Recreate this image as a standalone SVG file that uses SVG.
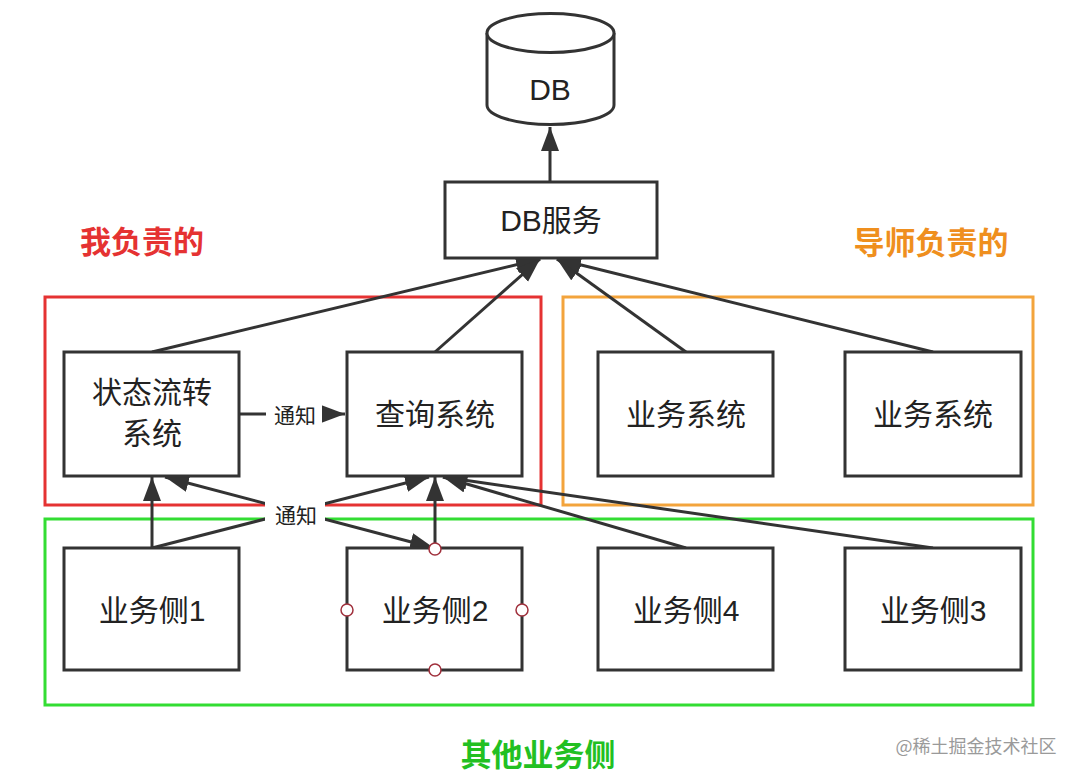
<svg xmlns="http://www.w3.org/2000/svg" width="1080" height="778" viewBox="0 0 1080 778">
<defs>
<style>
.node{fill:#fff;stroke:#333;stroke-width:3}
.t{font-family:"Liberation Sans","Noto Sans CJK SC",sans-serif;font-size:30px;fill:#222;text-anchor:middle;dominant-baseline:central}
.s{font-family:"Liberation Sans","Noto Sans CJK SC",sans-serif;font-size:21px;fill:#222;text-anchor:middle;dominant-baseline:central}
.title{font-family:"Noto Sans CJK SC",sans-serif;font-size:31px;font-weight:bold;text-anchor:middle;dominant-baseline:central}
.e{fill:none;stroke:#333;stroke-width:3}
.pt{fill:#fff;stroke:#a0303c;stroke-width:1.5}
</style>
<marker id="ah" markerUnits="userSpaceOnUse" markerWidth="26" markerHeight="20" refX="24" refY="9" orient="auto-start-reverse" viewBox="0 0 26 20">
<path d="M0,0 L24,9 L0,18 z" fill="#333"/>
</marker>
</defs>
<rect width="1080" height="778" fill="#fff"/>

<g id="group-red">
<rect x="45" y="297" width="496" height="208" fill="none" stroke="#e53232" stroke-width="3"/>
<text class="title" x="142" y="239" fill="#e53232">我负责的</text>
</g>
<g id="group-orange">
<rect x="563" y="297" width="470" height="208" fill="none" stroke="#f3a43c" stroke-width="3"/>
<text class="title" x="931" y="240" fill="#ef8f1e">导师负责的</text>
</g>
<g id="group-green">
<rect x="45" y="519" width="988" height="186" fill="none" stroke="#33dd33" stroke-width="3"/>
<text class="title" x="538" y="752" fill="#22c022">其他业务侧</text>
</g>

<g id="connectors">
<line class="e" x1="550" y1="182" x2="550" y2="127" marker-end="url(#ah)"/>
<line class="e" x1="152" y1="352" x2="540" y2="259" marker-end="url(#ah)"/>
<line class="e" x1="435" y1="352" x2="540" y2="259" marker-end="url(#ah)"/>
<line class="e" x1="686" y1="352" x2="557" y2="259" marker-end="url(#ah)"/>
<line class="e" x1="933" y1="352" x2="557" y2="259" marker-end="url(#ah)"/>
<line class="e" x1="152" y1="548" x2="152" y2="477" marker-end="url(#ah)"/>
<line class="e" x1="152" y1="548" x2="429" y2="477" marker-end="url(#ah)"/>
<line class="e" x1="435" y1="548" x2="435" y2="477" marker-end="url(#ah)"/>
<line class="e" x1="686" y1="548" x2="443" y2="477" marker-end="url(#ah)"/>
<line class="e" x1="933" y1="548" x2="443" y2="477" marker-end="url(#ah)"/>
<line class="e" x1="165" y1="477" x2="434" y2="548" marker-start="url(#ah)" marker-end="url(#ah)"/>
<line class="e" x1="239" y1="414" x2="345" y2="414" marker-end="url(#ah)"/>
<rect x="266" y="400" width="56" height="28" fill="#fff"/>
<text class="s" x="295" y="415">通知</text>
<rect x="265" y="501" width="60" height="28" fill="#fff"/>
<text class="s" x="296" y="515">通知</text>
</g>

<g id="db">
<path class="node" d="M487,33 A63.5,19.5 0 0 1 614,33 L614,105 A63.5,19.5 0 0 1 487,105 Z"/>
<path class="node" fill="none" d="M487,33 A63.5,19.5 0 0 0 614,33"/>
<text class="t" x="550" y="89">DB</text>
</g>
<g id="db-service">
<rect class="node" x="445" y="182" width="212" height="76"/>
<text class="t" x="551" y="220">DB服务</text>
</g>
<g id="state-flow">
<rect class="node" x="64" y="352" width="175" height="124"/>
<text class="t" x="152" y="392">状态流转</text>
<text class="t" x="152" y="433">系统</text>
</g>
<g id="query">
<rect class="node" x="347" y="352" width="175" height="124"/>
<text class="t" x="435" y="414">查询系统</text>
</g>
<g id="biz-sys-1">
<rect class="node" x="598" y="352" width="175" height="124"/>
<text class="t" x="686" y="414">业务系统</text>
</g>
<g id="biz-sys-2">
<rect class="node" x="845" y="352" width="176" height="124"/>
<text class="t" x="933" y="414">业务系统</text>
</g>
<g id="biz-side-1">
<rect class="node" x="64" y="548" width="175" height="122"/>
<text class="t" x="152" y="610">业务侧1</text>
</g>
<g id="biz-side-2">
<rect class="node" x="347" y="548" width="175" height="122"/>
<text class="t" x="435" y="610">业务侧2</text>
<circle class="pt" cx="435" cy="549" r="6"/>
<circle class="pt" cx="347" cy="610" r="6"/>
<circle class="pt" cx="522" cy="610" r="6"/>
<circle class="pt" cx="435" cy="670" r="6"/>
</g>
<g id="biz-side-4">
<rect class="node" x="598" y="548" width="175" height="122"/>
<text class="t" x="686" y="610">业务侧4</text>
</g>
<g id="biz-side-3">
<rect class="node" x="845" y="548" width="176" height="122"/>
<text class="t" x="933" y="610">业务侧3</text>
</g>
<text x="976" y="745" font-family="Noto Sans CJK SC,sans-serif" font-size="18" fill="#9a9a9a" text-anchor="middle" dominant-baseline="central">@稀土掘金技术社区</text>
</svg>
